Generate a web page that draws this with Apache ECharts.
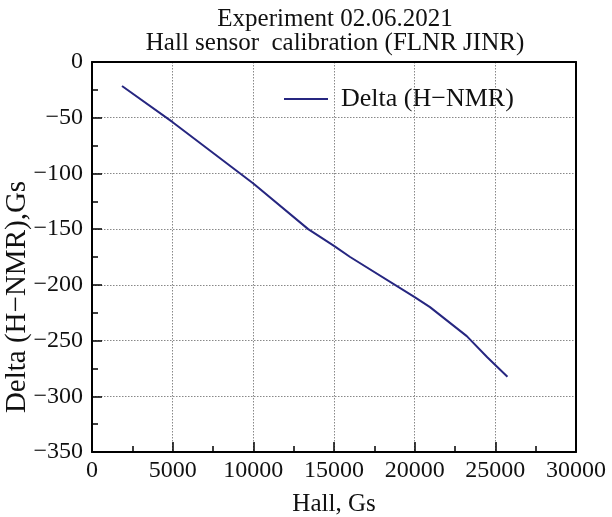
<!DOCTYPE html>
<html><head><meta charset="utf-8">
<script src="https://cdn.jsdelivr.net/npm/echarts@6/dist/echarts.min.js"></script>
<style>html,body{margin:0;padding:0;background:#fff}#c{width:612px;height:517px}</style>
</head><body><div id="c"></div>
<script>
const hall = [1860, 5000, 10000, 13400, 15000, 16000, 20000, 20950, 23230, 24500, 25750];
const delta = [-21.5, -54, -109, -150, -165, -175, -211, -220, -246, -265, -282.5];
const seriesName = 'Delta (H\u2212NMR)';
const titleLines = ['Experiment 02.06.2021', 'Hall sensor  calibration (FLNR JINR)'];
const xName = 'Hall, Gs';
const yName = 'Delta (H\u2212NMR),Gs';
const FONT = 'Liberation Serif';
const chart = echarts.init(document.getElementById('c'), null, {renderer: 'canvas'});
const fmt = v => String(v).replace('-', '\u2212');
const frameLine = {show: true, onZero: false, lineStyle: {color: '#000', width: 2}};
const mainTicks = {
  axisLine: frameLine,
  axisTick: {show: true, inside: true, length: 10, lineStyle: {color: '#000', width: 1.5}},
  minorTick: {show: true, splitNumber: 2, length: 6, lineStyle: {color: '#000', width: 1.5}},
};
const gridLine = {show: true, lineStyle: {color: '#888', type: [1.5, 1.5], width: 1}};
chart.setOption({
  animation: false,
  title: {text: titleLines.join('\n'), left: 330, textAlign: 'center', top: 2,
    textStyle: {fontFamily: FONT, fontWeight: 'normal', fontSize: 25, color: '#111', lineHeight: 24}},
  legend: {show: true, left: 279, top: 81, itemWidth: 44, itemHeight: 2, itemGap: 10,
    icon: 'rect', textStyle: {fontFamily: FONT, fontSize: 26, color: '#111', padding: [0, 0, 0, 8]},
    data: [seriesName]},
  grid: {left: 92, right: 36, top: 62, bottom: 65, containLabel: false, outerBoundsMode: 'none'},
  xAxis: [
    Object.assign({type: 'value', min: 0, max: 30000, interval: 5000, position: 'bottom',
      name: xName, nameLocation: 'middle', nameGap: 40,
      nameTextStyle: {fontFamily: FONT, fontSize: 25, color: '#111'},
      axisLabel: {fontFamily: FONT, fontSize: 24, color: '#111', margin: 7, formatter: fmt},
      splitLine: gridLine}, mainTicks),
    {type: 'value', min: 0, max: 30000, interval: 5000, position: 'top',
      axisLine: frameLine, axisTick: {show: false}, axisLabel: {show: false}, splitLine: {show: false}}
  ],
  yAxis: [
    Object.assign({type: 'value', min: -350, max: 0, interval: 50, position: 'left',
      name: yName, nameLocation: 'middle', nameGap: 60, nameRotate: 90, nameMoveOverlap: false,
      nameTextStyle: {fontFamily: FONT, fontSize: 29, color: '#111', padding: [0, 80, 0, 0]},
      axisLabel: {fontFamily: FONT, fontSize: 24, color: '#111', margin: 9, formatter: fmt},
      splitLine: gridLine}, mainTicks),
    {type: 'value', min: -350, max: 0, interval: 50, position: 'right',
      axisLine: frameLine, axisTick: {show: false}, axisLabel: {show: false}, splitLine: {show: false}}
  ],
  series: [{
    name: seriesName, type: 'line', xAxisIndex: 0, yAxisIndex: 0,
    data: hall.map((h, i) => [h, delta[i]]),
    showSymbol: false, symbol: 'none',
    lineStyle: {color: '#262680', width: 2}, itemStyle: {color: '#262680'}
  }]
});
</script></body></html>
